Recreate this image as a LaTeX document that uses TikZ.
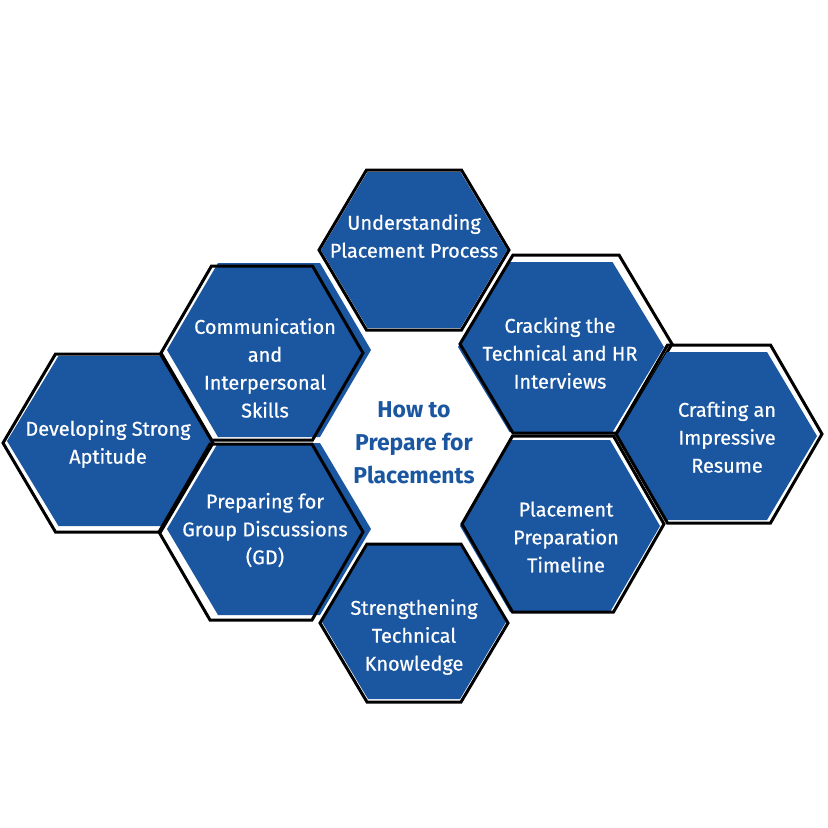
\documentclass[tikz,border=0pt]{standalone}
\usepackage{fontspec}
\setmainfont{Fira Sans}
\newfontfamily\medfont{Fira Sans}[FakeBold=0.6]
\definecolor{hexblue}{RGB}{27,86,160}
\definecolor{titleblue}{RGB}{27,86,160}
\newcommand{\hexp}[4]{({#1+#3},#2) -- ({#1+#3/2},{#2-#4}) -- ({#1-#3/2},{#2-#4}) -- ({#1-#3},#2) -- ({#1-#3/2},{#2+#4}) -- ({#1+#3/2},{#2+#4}) -- cycle}
\tikzset{
  hexfill/.style={fill=hexblue},
  hexline/.style={draw=black, line width=3bp, line join=miter},
  hextext/.style={text=white, align=center, font=\medfont\fontsize{20}{28}\selectfont, inner sep=0pt},
  titletext/.style={text=titleblue, align=center, font=\fontsize{23}{33}\selectfont\bfseries, inner sep=0pt}
}
\begin{document}
\begin{tikzpicture}[x=1bp,y=-1bp]
\fill[white] (0,0) rectangle (828,828);
\useasboundingbox (0,0) rectangle (828,828);
% Understanding
\fill[hexfill] \hexp{414}{250}{93}{78};
\draw[hexline] \hexp{414}{250}{95}{80};
% Communication
\fill[hexfill] \hexp{269}{350}{102}{87};
\draw[hexline] \hexp{262}{353}{101}{87};
% Developing
\fill[hexfill] \hexp{110}{441}{103}{85};
\draw[hexline] \hexp{108}{443}{105}{89};
% Cracking
\fill[hexfill] \hexp{561}{347}{103}{85};
\draw[hexline] \hexp{566}{344}{106}{89};
% Crafting
\fill[hexfill] \hexp{717}{436}{100}{84};
\draw[hexline] \hexp{719}{434}{103}{89};
% Placement timeline
\fill[hexfill] \hexp{560}{526}{100}{86};
\draw[hexline] \hexp{563}{524}{101}{88};
% Strengthening
\fill[hexfill] \hexp{414}{622}{92}{77};
\draw[hexline] \hexp{414}{623}{94}{79};
% Preparing GD
\fill[hexfill] \hexp{269}{529}{102}{86};
\draw[hexline] \hexp{261}{532}{102}{88};

\node[hextext] (t1) at (414,236) {Understanding\\Placement Process};
\node[hextext] (t2) at (265,368) {Communication\\and\\Interpersonal\\Skills};
\node[hextext] (t3) at (108,444) {Developing Strong\\Aptitude};
\node[hextext] (t4) at (560,353) {Cracking the\\Technical and HR\\Interviews};
\node[hextext] (t5) at (727,437) {Crafting an\\Impressive\\Resume};
\node[hextext] (t6) at (566,537) {Placement\\Preparation\\Timeline};
\node[hextext] (t7) at (414,637) {Strengthening\\Technical\\Knowledge};
\node[hextext] (t8) at (265,530) {Preparing for\\Group Discussions\\(GD)};
\node[titletext] (c) at (414,443) {How to\\Prepare for\\Placements};
\end{tikzpicture}
\end{document}
